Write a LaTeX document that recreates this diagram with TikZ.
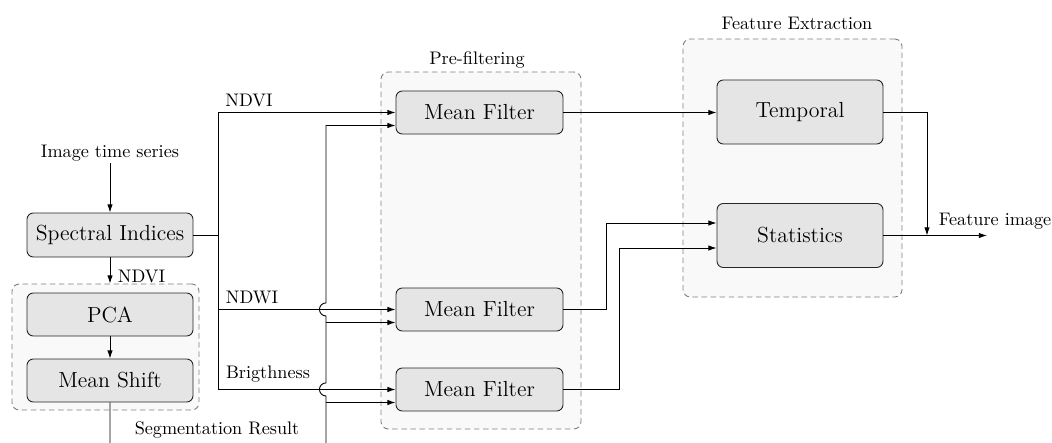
\documentclass[tikz,border=0pt]{standalone}
\usetikzlibrary{arrows.meta,calc}
\begin{document}
\begin{tikzpicture}[x=0.55pt,y=0.55pt,
  box/.style={draw=black!85,line width=0.5pt,rounded corners=3.5pt,fill=black!10,font=\large,inner sep=0pt},
  group/.style={draw=black!50,dashed,dash pattern=on 3pt off 2pt,line width=0.5pt,rounded corners=4pt,fill=black!2.5,inner sep=0pt},
  lbl/.style={inner sep=1pt},
  arr/.style={-{Latex[length=4.5pt,width=3pt]}},
  con/.style={line width=0.5pt}]
\useasboundingbox (0,0) rectangle (1052,-443);
\clip (0,0) rectangle (1052,-443);
% groups
\node[group,minimum width=187*0.55pt,minimum height=126*0.55pt] (lg) at (105.5,-347) {};
\node[group,minimum width=200*0.55pt,minimum height=357*0.55pt] (pre) at (481,-250.5) {};
\node[group,minimum width=219*0.55pt,minimum height=258*0.55pt] (fe) at (792.5,-168) {};
\node[lbl] (prel) at (477,-60) {Pre-filtering};
\node[lbl] (fel) at (797,-23) {Feature Extraction};
% boxes
\node[lbl] (its) at (110,-153) {Image time series};
\node[box,minimum width=166*0.55pt,minimum height=44*0.55pt] (si) at (110,-235) {Spectral Indices};
\node[box,minimum width=166*0.55pt,minimum height=43*0.55pt] (pca) at (110,-314.5) {PCA};
\node[box,minimum width=166*0.55pt,minimum height=43*0.55pt] (ms) at (110,-380.5) {Mean Shift};
\node[box,minimum width=167*0.55pt,minimum height=43*0.55pt] (mf1) at (479.5,-112.5) {Mean Filter};
\node[box,minimum width=167*0.55pt,minimum height=43*0.55pt] (mf2) at (479.5,-309.5) {Mean Filter};
\node[box,minimum width=167*0.55pt,minimum height=43*0.55pt] (mf3) at (479.5,-389.5) {Mean Filter};
\node[box,minimum width=166*0.55pt,minimum height=64*0.55pt] (temp) at (800,-112) {Temporal};
\node[box,minimum width=166*0.55pt,minimum height=64*0.55pt] (stat) at (800,-235.5) {Statistics};
% labels
\node[lbl] (l1) at (249,-100) {NDVI};
\node[lbl] (l2) at (252,-297) {NDWI};
\node[lbl] (l3) at (268,-374) {Brigthness};
\node[lbl] (l4) at (141.5,-276) {NDVI};
\node[lbl] (l5) at (217,-430) {Segmentation Result};
\node[lbl] (l6) at (995,-221) {Feature image};
% coordinates
\coordinate (sj) at (218,-235);
\coordinate (sb) at (110,-470);
\coordinate (sc) at (326,-470);
\coordinate (b2) at (326,-322.5);
\coordinate (b3) at (326,-402.5);
\coordinate (t2) at (606,-309.5);
\coordinate (t3) at (619,-389.5);
\coordinate (fo) at (927,-235.5);
\coordinate (fimg) at (987,-235.5);
% connectors
\draw[con,arr] (its) -- (si);
\draw[con,arr] (si) -- (si |- lg.north);
\draw[con,arr] (pca) -- (ms);
\draw[con] (si.east) -- (sj);
\draw[con,arr] (sj) |- (mf1.west);
\draw[con,arr] (sj) |- (mf2.west);
\draw[con,arr] (sj) |- (mf3.west);
\draw[con,arr] (ms.south) -- (sb) -- (sc) -- (326,-396) arc(270:90:3.6pt) -- (326,-316) arc(270:90:3.6pt) |- ($(mf1.west)+(0,-13)$);
\draw[con,arr] (b2) -- ($(mf2.west)+(0,-13)$);
\draw[con,arr] (b3) -- ($(mf3.west)+(0,-13)$);
\draw[con,arr] (mf1.east) -- (mf1.east -| temp.west);
\draw[con,arr] (mf2.east) -- (t2) |- ($(stat.west)+(0,12.5)$);
\draw[con,arr] (mf3.east) -- (t3) |- ($(stat.west)+(0,-12.5)$);
\draw[con,arr] (temp.east) -| (fo);
\draw[con,arr] (stat.east) -- (fimg);
\end{tikzpicture}
\end{document}
